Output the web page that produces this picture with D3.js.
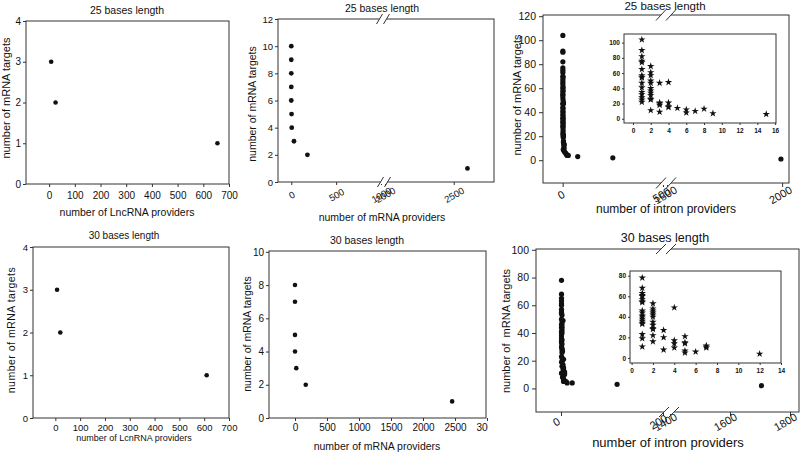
<!DOCTYPE html>
<html><head><meta charset="utf-8">
<script src="https://cdn.jsdelivr.net/npm/d3@7"></script>
<style>
body{margin:0;background:#fff}
svg{display:block;background:#fff}
text{font-family:"Liberation Sans",Arial,Helvetica,sans-serif;fill:#111}
</style>
</head><body>
<svg id="c" width="800" height="454"></svg>
<script>
// ---------------- data ----------------
const titles = ["25 bases length", "25 bases length", "25 bases length", "30 bases length", "30 bases length", "30 bases length"];
const xLabels = ["number of LncRNA providers", "number of mRNA providers", "number of intron providers",
                 "number of LcnRNA providers", "number of mRNA providers", "number of intron providers"];
const yLabels = ["number of mRNA targets", "number of mRNA targets", "number of mRNA targets",
                 "number of mRNA targets", "number of mRNA targets", "number of  mRNA targets"];

// top-left: LncRNA, 25 bases
const lnc25X = [8, 25, 655];
const lnc25Y = [3, 2, 1];
// top-middle: mRNA, 25 bases
const mrna25X = [0, 0, 0, 0, 0, 3, 5, 30, 180, 2600];
const mrna25Y = [10, 9, 8, 7, 6, 5, 4, 3, 2, 1];
// top-right: intron, 25 bases (main)
const intron25X = [1,1,1,1,1,1,1,1,1,1,1,1,1,1,1,1,1,1,1,1,1,1,1,1,
                   2,2,2,2,2,2,2,2,2,2,2,2,2,2,2,
                   3,3,3,3,3, 4,4,4,4, 5,6,6,7,8,9,15, 18,22,28, 75,250,1995];
const intron25Y = [104,91,90,82,77,75,73,70,67,65,63,60,57,55,54,52,47,44,41,38,35,32,28,22,
                   69,61,58,50,47,43,40,37,35,33,31,30,28,26,24,
                   47,21,20,19,9, 48,21,16,15, 14,12,8,10,13,7,6, 5,4,4, 3,2,1];
// top-right inset
const intron25InsetX = [1,1,1,1,1,1,1,1,1,1,1,1,1,1,1,1,
                        2,2,2,2,2,2,2,2,2,2,2,2,
                        3,3,3,3,3, 4,4,4,4, 5,6,6,7,8,9,15];
const intron25InsetY = [104,90,82,76,74,65,57,55,54,47,41,35,32,28,25,22,
                        69,61,57,50,47,40,37,34,31,26,25,11,
                        47,21,20,18,9, 48,21,16,15, 14,12,8,10,13,7,6];

// bottom-left: LncRNA, 30 bases
const lnc30X = [7, 20, 610];
const lnc30Y = [3, 2, 1];
// bottom-middle: mRNA, 30 bases
const mrna30X = [0, 0, 0, 0, 20, 168, 2455];
const mrna30Y = [8, 7, 5, 4, 3, 2, 1];
// bottom-right: intron, 30 bases (main)
const intron30X = [1,1,1,1,1,1,1,1,1,1,1,1,1,1,1,1,1,1,1,1,1,1,
                   2,2,2,2,2,2,2,2,2,2,2,2,2,
                   3,3,3, 4,4,4,4, 5,5,5,5,5, 6,7,7,7,12, 5,10,22, 110,1705];
const intron30Y = [78,68,65,63,61,60,57,55,54,50,46,44,41,40,38,36,34,33,30,23,19,11,
                   53,48,46,44,42,40,35,32,29,28,26,22,16,
                   27,20,8, 49,17,14,10, 21,15,14,7,5, 6,12,10,11,4, 6,5,4, 3,2];
// bottom-right inset
const intron30InsetX = [1,1,1,1,1,1,1,1,1,1,1,1,1,1,1,1,1,1,1,
                        2,2,2,2,2,2,2,2,2,2,2,2,
                        3,3,3, 4,4,4,4, 5,5,5,5,5, 6, 7,7,7, 12];
const intron30InsetY = [78,68,63,61,60,57,55,54,46,44,41,40,38,36,34,33,23,19,11,
                        53,48,46,44,42,40,35,32,29,28,22,16,
                        27,20,8, 49,17,14,10, 21,15,14,7,5, 6, 12,10,11, 4];

// tick values
const ticksLnc = [0, 100, 200, 300, 400, 500, 600, 700];
const ticks0to4 = [0, 1, 2, 3, 4];
const ticksMrna25A = [0, 500, 1000], ticksMrna25B = [2000, 2500];
const ticks0to12 = [0, 2, 4, 6, 8, 10, 12];
const ticksIntron25A = [0, 500], ticksIntron25B = [1500, 2000];
const ticks0to120 = [0, 20, 40, 60, 80, 100, 120];
const ticksInset25X = [0, 2, 4, 6, 8, 10, 12, 14, 16];
const ticksInset25Y = [0, 20, 40, 60, 80, 100];
const ticksMrna30 = [0, 500, 1000, 1500, 2000, 2500, 3000];
const ticks0to10 = [0, 2, 4, 6, 8, 10];
const ticksIntron30A = [0, 200], ticksIntron30B = [1400, 1600, 1800];
const ticks0to100 = [0, 20, 40, 60, 80, 100];
const ticksInset30X = [0, 2, 4, 6, 8, 10, 12, 14];
const ticksInset30Y = [0, 20, 40, 60, 80];

// ---------------- drawing ----------------
const svg = d3.select("#c");
const LINE = "#333";
svg.append("defs").append("clipPath").attr("id", "clip5")
  .append("rect").attr("x", 0).attr("y", 0).attr("width", 488).attr("height", 454);

function makeX(segs) {
  const xs = segs.map(s => d3.scaleLinear().domain(s.dom).range(s.rng));
  const f = v => {
    for (let i = 0; i < xs.length; i++) {
      if (i === xs.length - 1 || v <= xs[i].domain()[1]) return xs[i](v);
    }
  };
  f.segs = xs;
  return f;
}

function breakMark(g, cx, yl, sw, sh, sep) {
  g.append("rect").attr("x", cx - sep / 2).attr("y", yl - 2).attr("width", sep).attr("height", 4).attr("fill", "#fff");
  [cx - sep / 2, cx + sep / 2].forEach(c => {
    g.append("line").attr("x1", c - sw / 2).attr("y1", yl + sh / 2).attr("x2", c + sw / 2).attr("y2", yl - sh / 2)
      .attr("stroke", LINE).attr("stroke-width", 1);
  });
}

function panel(o) {
  const g = svg.append("g");
  const {l, r, t, b} = o.box;
  const y = d3.scaleLinear().domain(o.yDom).range([b, t]);
  const x = makeX(o.xSegs);
  g.append("rect").attr("x", l).attr("y", t).attr("width", r - l).attr("height", b - t)
    .attr("fill", o.fill || "none").attr("stroke", LINE).attr("stroke-width", o.sw || 1);

  const ya = g.append("g").attr("transform", `translate(${l},0)`)
    .call(d3.axisLeft(y).tickValues(o.yTicks).tickSize(o.tick || 3).tickPadding(o.yPad || 2).tickFormat(d3.format("d")));
  ya.select(".domain").remove();
  ya.selectAll("line").attr("stroke", LINE);
  ya.selectAll("text").style("font-size", o.yFs + "px").style("font-weight", o.fw || "normal")
    .style("font-family", null);

  o.xSegs.forEach((s, i) => {
    const xa = g.append("g").attr("transform", `translate(0,${b})`)
      .call(d3.axisBottom(x.segs[i]).tickValues(s.ticks).tickSize(o.tick || 3).tickPadding(o.xPad || 3).tickFormat(d3.format("d")));
    xa.select(".domain").remove();
    xa.selectAll("line").attr("stroke", LINE);
    const tx = xa.selectAll("text").style("font-size", o.xFs + "px").style("font-weight", o.fw || "normal")
      .style("font-family", null);
    if (o.rot) {
      tx.attr("y", 0).attr("dy", "0.35em")
        .attr("transform", `translate(${o.rotDx || 0},${o.rotDy}) rotate(${o.rot})`).attr("text-anchor", "middle");
    }
    if (o.clip) xa.attr("clip-path", `url(#${o.clip})`);
  });

  if (o.breaks) o.breaks.forEach(bk => breakMark(g, bk.cx, bk.y, bk.sw, bk.sh, bk.sep));

  const pts = d3.zip(o.X, o.Y);
  if (o.star) {
    g.selectAll("path.pt").data(pts).join("path").attr("class", "pt")
      .attr("d", d3.symbol(d3.symbolStar, o.star))
      .attr("transform", d => `translate(${x(d[0])},${y(d[1])})`)
      .attr("fill", "#111");
  } else {
    g.selectAll("circle").data(pts).join("circle")
      .attr("cx", d => x(d[0])).attr("cy", d => y(d[1])).attr("r", o.r).attr("fill", "#111");
  }

  if (o.title) g.append("text").attr("x", o.title.x).attr("y", o.title.y).attr("text-anchor", "middle")
    .style("font-size", o.title.fs + "px").text(o.title.t);
  if (o.xlab) g.append("text").attr("x", o.xlab.x).attr("y", o.xlab.y).attr("text-anchor", "middle")
    .style("font-size", o.xlab.fs + "px").text(o.xlab.t);
  if (o.ylab) g.append("text").attr("transform", `translate(${o.ylab.x},${o.ylab.y}) rotate(-90)`)
    .attr("text-anchor", "middle").style("font-size", o.ylab.fs + "px")
    .style("letter-spacing", (o.ylab.ls || 0) + "px").style("white-space", "pre").text(o.ylab.t);
}

// Panel 1: top-left
panel({box: {l: 26, r: 229, t: 21, b: 184},
  xSegs: [{dom: [-90, 700], rng: [26, 229], ticks: ticksLnc}],
  yDom: [0, 4], yTicks: ticks0to4, yFs: 10, xFs: 10, xPad: 5, r: 2.3,
  X: lnc25X, Y: lnc25Y,
  title: {x: 127, y: 14, fs: 10.5, t: titles[0]},
  xlab: {x: 127, y: 216, fs: 10.5, t: xLabels[0]},
  ylab: {x: 10, y: 98, fs: 11, t: yLabels[0]}});

// Panel 2: top-middle (broken x axis)
panel({box: {l: 278, r: 494, t: 19, b: 182},
  xSegs: [{dom: [-148, 1000], rng: [278, 381], ticks: ticksMrna25A},
          {dom: [2000, 2793], rng: [385, 494], ticks: ticksMrna25B}],
  yDom: [0, 12], yTicks: ticks0to12, yFs: 9.5, xFs: 9.5, rot: -30, rotDy: 13, r: 2.4,
  breaks: [{cx: 383, y: 19, sw: 6, sh: 10, sep: 7}, {cx: 384, y: 182, sw: 6, sh: 10, sep: 7}],
  X: mrna25X, Y: mrna25Y,
  title: {x: 382, y: 12, fs: 10.5, t: titles[1]},
  xlab: {x: 382, y: 221, fs: 10.5, t: xLabels[1]},
  ylab: {x: 256, y: 104, fs: 10.5, t: yLabels[1]}});

// Panel 3: top-right (broken x axis)
panel({box: {l: 543, r: 789, t: 15, b: 183},
  xSegs: [{dom: [-98, 500], rng: [543, 663], ticks: ticksIntron25A},
          {dom: [1500, 2030], rng: [667, 789], ticks: ticksIntron25B}],
  yDom: [-19, 121], yTicks: ticks0to120, yFs: 10.5, xFs: 11, tick: 4, yPad: 3, rot: -30, rotDy: 12, rotDx: -2, r: 2.6,
  breaks: [{cx: 666, y: 15, sw: 10, sh: 11, sep: 10}, {cx: 666, y: 183, sw: 10, sh: 11, sep: 10}],
  X: intron25X, Y: intron25Y,
  title: {x: 665, y: 10, fs: 11.5, t: titles[2]},
  xlab: {x: 666, y: 213, fs: 12, t: xLabels[2]},
  ylab: {x: 521, y: 95, fs: 11, t: yLabels[2]}});

// Panel 3 inset
panel({box: {l: 624, r: 776, t: 34, b: 123},
  xSegs: [{dom: [-1.01, 16.1], rng: [624, 776], ticks: ticksInset25X}],
  yDom: [-5.6, 111.4], yTicks: ticksInset25Y, yFs: 6.5, xFs: 6.5, fw: "bold", tick: 2, yPad: 2, xPad: 3, star: 17,
  X: intron25InsetX, Y: intron25InsetY});

// Panel 4: bottom-left
panel({box: {l: 33, r: 229, t: 247, b: 418},
  xSegs: [{dom: [-90, 700], rng: [33, 229], ticks: ticksLnc}],
  yDom: [0, 4], yTicks: ticks0to4, yFs: 9.5, xFs: 9.5, xPad: 3, r: 2.3,
  X: lnc30X, Y: lnc30Y,
  title: {x: 124, y: 239, fs: 10, t: titles[3]},
  xlab: {x: 134, y: 441, fs: 9, t: xLabels[3]},
  ylab: {x: 15, y: 330, fs: 10.5, ls: 0.5, t: yLabels[3]}});

// Panel 5: bottom-middle
panel({box: {l: 269, r: 486, t: 251, b: 418},
  xSegs: [{dom: [-406, 2984], rng: [269, 486], ticks: ticksMrna30}],
  yDom: [0, 10.05], yTicks: ticks0to10, yFs: 10, xFs: 10, xPad: 3, r: 2.3, clip: "clip5",
  X: mrna30X, Y: mrna30Y,
  title: {x: 367, y: 244, fs: 10.5, t: titles[4]},
  xlab: {x: 377, y: 450, fs: 10.5, t: xLabels[4]},
  ylab: {x: 251, y: 334, fs: 10.5, t: yLabels[4]}});

// Panel 6: bottom-right (broken x axis)
panel({box: {l: 536, r: 799, t: 249, b: 412},
  xSegs: [{dom: [-49, 200], rng: [536, 663], ticks: ticksIntron30A},
          {dom: [1400, 1830], rng: [670, 799], ticks: ticksIntron30B}],
  yDom: [-17, 100.6], yTicks: ticks0to100, yFs: 10.5, xFs: 11, tick: 4, yPad: 3, rot: -30, rotDy: 10, rotDx: -5, r: 2.6,
  breaks: [{cx: 666, y: 249, sw: 10, sh: 10, sep: 10}, {cx: 669, y: 412, sw: 10, sh: 10, sep: 10}],
  X: intron30X, Y: intron30Y,
  title: {x: 665, y: 242, fs: 12.5, t: titles[5]},
  xlab: {x: 668, y: 447, fs: 13, t: xLabels[5]},
  ylab: {x: 510, y: 331, fs: 11, t: yLabels[5]}});

// Panel 6 inset
panel({box: {l: 630, r: 781, t: 271, b: 363},
  xSegs: [{dom: [-0.15, 14], rng: [630, 781], ticks: ticksInset30X}],
  yDom: [-4.9, 84.6], yTicks: ticksInset30Y, yFs: 6.5, xFs: 6.5, fw: "bold", tick: 2, yPad: 2, xPad: 3, star: 17,
  X: intron30InsetX, Y: intron30InsetY});
</script>
</body></html>
